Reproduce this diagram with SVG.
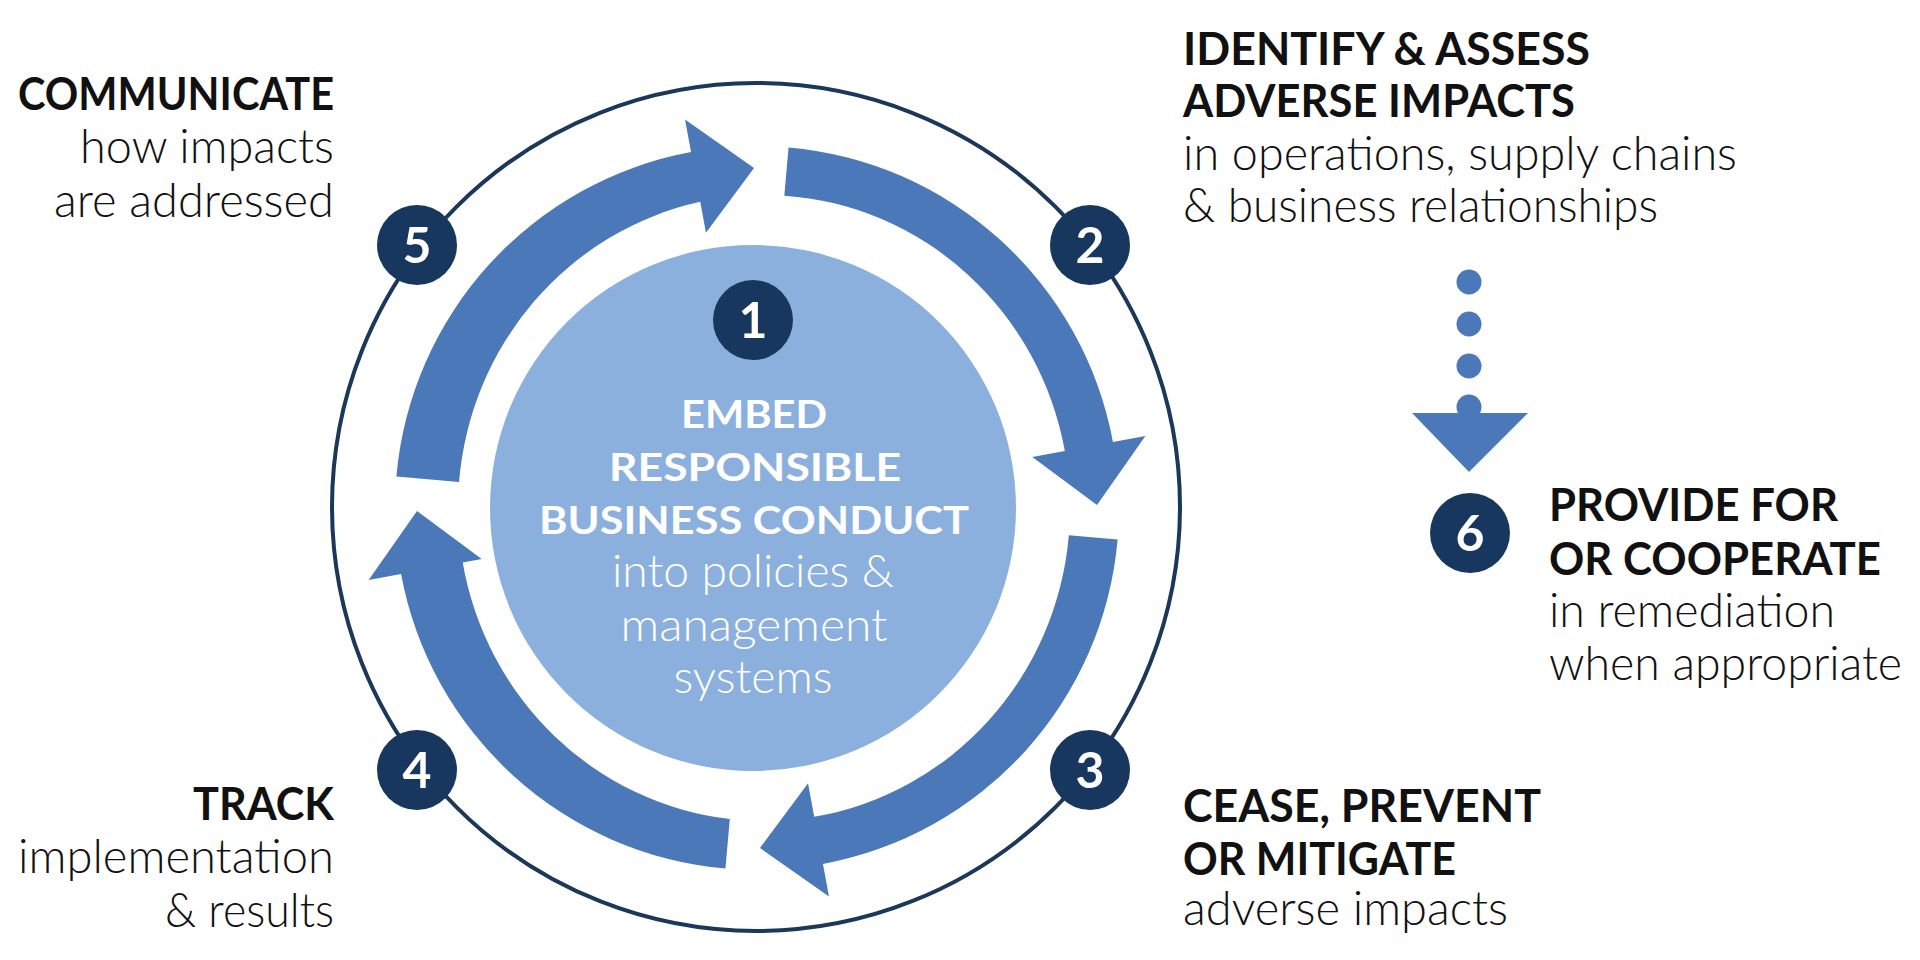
<svg xmlns="http://www.w3.org/2000/svg" width="1920" height="960" viewBox="0 0 1920 960">
<style>
.hd{font-family:Lato,"Open Sans","Liberation Sans",sans-serif;font-weight:700;font-size:46px;fill:#111}
.lt{font-family:Lato,"Open Sans","Liberation Sans",sans-serif;font-weight:300;font-size:47px;fill:#111}
.ch{font-family:Lato,"Open Sans","Liberation Sans",sans-serif;font-weight:700;font-size:39px;fill:#fff}
.cl{font-family:Lato,"Open Sans","Liberation Sans",sans-serif;font-weight:300;font-size:45px;fill:#fff}
.num{fill:#17375e}
.nt{font-family:Lato,"Open Sans","Liberation Sans",sans-serif;font-weight:700;font-size:50px;fill:#fff;text-anchor:middle}
.band{fill:#4a78b9}
</style>
<rect width="1920" height="960" fill="#fff"/>
<circle id="ring" cx="756" cy="507" r="424" fill="none" stroke="#1b3759" stroke-width="4"/>
<g id="node-1">
<circle cx="753" cy="508" r="263" fill="#8cb0dd"/>
<circle class="num" cx="753" cy="320" r="40"/>
<text class="nt" x="753" y="338">1</text>
<text class="ch" x="754" y="428" text-anchor="middle" textLength="146" lengthAdjust="spacingAndGlyphs">EMBED</text>
<text class="ch" x="755" y="481" text-anchor="middle" textLength="292" lengthAdjust="spacingAndGlyphs">RESPONSIBLE</text>
<text class="ch" x="754" y="534" text-anchor="middle" textLength="430" lengthAdjust="spacingAndGlyphs">BUSINESS CONDUCT</text>
<text class="cl" x="753" y="587" text-anchor="middle" textLength="282" lengthAdjust="spacingAndGlyphs">into policies &amp;</text>
<text class="cl" x="754" y="641" text-anchor="middle" textLength="267" lengthAdjust="spacingAndGlyphs">management</text>
<text class="cl" x="753" y="693" text-anchor="middle" textLength="159" lengthAdjust="spacingAndGlyphs">systems</text>
</g>
<g id="connectors">
<path id="arrow-5-1" class="band" d="M 396.38 476.45 A 362 362 0 0 1 691.03 152.06 L 685.02 119.62 L 754.03 168.01 L 705.97 232.69 L 700.26 201.87 A 306 313 0 0 0 459.04 481.93 Z"/>
<path id="arrow-1-2" class="band" d="M 788.55 147.38 A 362 362 0 0 1 1112.94 442.03 L 1145.38 436.02 L 1096.99 505.03 L 1032.31 456.97 L 1064.85 450.94 A 306 313 0 0 0 784.32 195.69 Z"/>
<path id="arrow-2-3" class="band" d="M 1117.62 539.55 A 362 362 0 0 1 822.97 863.94 L 828.98 896.38 L 759.97 847.99 L 808.03 783.31 L 814.22 816.74 A 306 313 0 0 0 1068.84 535.28 Z"/>
<path id="arrow-3-4" class="band" d="M 725.45 868.62 A 362 362 0 0 1 401.06 573.97 L 368.62 579.98 L 417.01 510.97 L 481.69 559.03 L 462.71 562.54 A 306 313 0 0 0 729.79 819.01 Z"/>
<g id="dotted-2-6" fill="#4a78b9">
<circle cx="1469" cy="282" r="12.5"/>
<circle cx="1469" cy="324" r="12.5"/>
<circle cx="1469" cy="366" r="12.5"/>
<circle cx="1469" cy="407" r="12.5"/>
<polygon points="1412,413 1528,413 1469,472"/>
</g>
</g>
<g id="node-5">
<circle class="num" cx="417" cy="245" r="40"/>
<text class="nt" x="417" y="263">5</text>
<text class="hd" x="334" y="110" text-anchor="end" textLength="316" lengthAdjust="spacingAndGlyphs">COMMUNICATE</text>
<text class="lt" x="334" y="163" text-anchor="end" textLength="254" lengthAdjust="spacingAndGlyphs">how impacts</text>
<text class="lt" x="334" y="217" text-anchor="end" textLength="280" lengthAdjust="spacingAndGlyphs">are addressed</text>
</g>
<g id="node-2">
<circle class="num" cx="1090" cy="245" r="40"/>
<text class="nt" x="1090" y="263">2</text>
<text class="hd" x="1183" y="65" textLength="407" lengthAdjust="spacingAndGlyphs">IDENTIFY &amp; ASSESS</text>
<text class="hd" x="1183" y="117" textLength="392" lengthAdjust="spacingAndGlyphs">ADVERSE IMPACTS</text>
<text class="lt" x="1183" y="170" textLength="554" lengthAdjust="spacingAndGlyphs">in operations, supply chains</text>
<text class="lt" x="1183" y="222" textLength="475" lengthAdjust="spacingAndGlyphs">&amp; business relationships</text>
</g>
<g id="node-6">
<circle class="num" cx="1470" cy="533" r="40"/>
<text class="nt" x="1470" y="551">6</text>
<text class="hd" x="1549" y="521" textLength="289" lengthAdjust="spacingAndGlyphs">PROVIDE FOR</text>
<text class="hd" x="1549" y="575" textLength="332" lengthAdjust="spacingAndGlyphs">OR COOPERATE</text>
<text class="lt" x="1549" y="627" textLength="286" lengthAdjust="spacingAndGlyphs">in remediation</text>
<text class="lt" x="1549" y="680" textLength="353" lengthAdjust="spacingAndGlyphs">when appropriate</text>
</g>
<g id="node-3">
<circle class="num" cx="1090" cy="770" r="40"/>
<text class="nt" x="1090" y="788">3</text>
<text class="hd" x="1183" y="822" textLength="358" lengthAdjust="spacingAndGlyphs">CEASE, PREVENT</text>
<text class="hd" x="1183" y="875" textLength="273" lengthAdjust="spacingAndGlyphs">OR MITIGATE</text>
<text class="lt" x="1183" y="925" textLength="325" lengthAdjust="spacingAndGlyphs">adverse impacts</text>
</g>
<g id="node-4">
<circle class="num" cx="417" cy="770" r="40"/>
<text class="nt" x="417" y="788">4</text>
<text class="hd" x="334" y="820" text-anchor="end" textLength="141" lengthAdjust="spacingAndGlyphs">TRACK</text>
<text class="lt" x="334" y="873" text-anchor="end" textLength="316" lengthAdjust="spacingAndGlyphs">implementation</text>
<text class="lt" x="334" y="927" text-anchor="end" textLength="169" lengthAdjust="spacingAndGlyphs">&amp; results</text>
</g>
</svg>
